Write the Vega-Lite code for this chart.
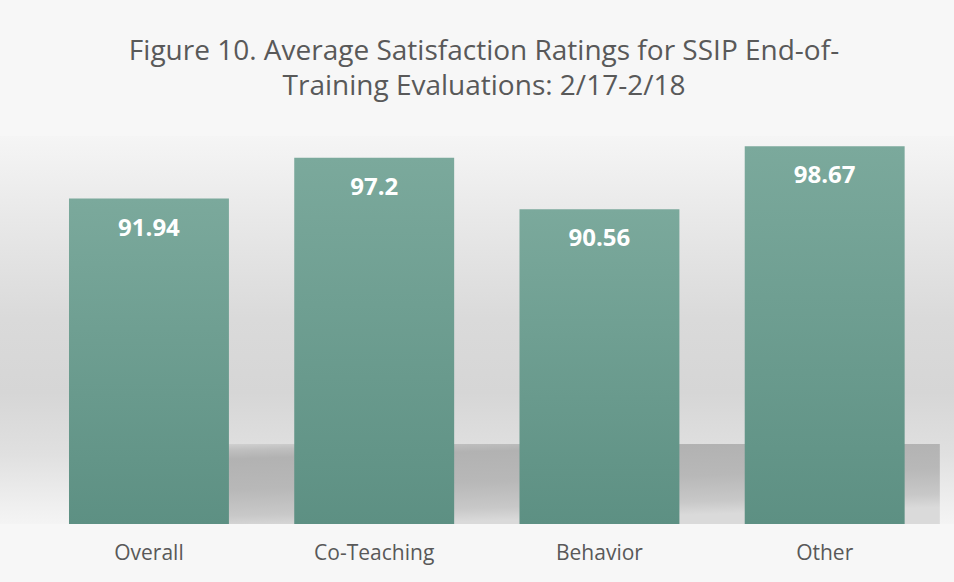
{
  "$schema": "https://vega.github.io/schema/vega-lite/v6.json",
  "autosize": "none",
  "width": 954,
  "height": 388,
  "padding": {"left": 0, "top": 136, "right": 0, "bottom": 58},
  "background": "#f7f7f7",
  "config": {"view": {"stroke": null}},
  "title": {
    "text": ["Figure 10. Average Satisfaction Ratings for SSIP End-of-", "Training Evaluations: 2/17-2/18"],
    "font": "Open Sans",
    "fontSize": 28,
    "fontWeight": "normal",
    "color": "#595959",
    "lineHeight": 35,
    "anchor": "middle",
    "dx": 7,
    "offset": 35
  },
  "layer": [
    {
      "data": {"values": [{"band": "background"}]},
      "mark": {"type": "rect",
        "color": {"gradient": "linear", "x1": 0, "y1": 0, "x2": 0, "y2": 1,
          "stops": [
            {"offset": 0, "color": "#f5f5f5"},
            {"offset": 0.22, "color": "#e8e8e8"},
            {"offset": 0.47, "color": "#dadada"},
            {"offset": 0.66, "color": "#d6d6d6"},
            {"offset": 0.82, "color": "#e0e0e0"},
            {"offset": 0.95, "color": "#efefef"},
            {"offset": 1, "color": "#f4f4f4"}
          ]}},
      "encoding": {
        "y": {"datum": 100, "type": "quantitative", "scale": {"domain": [50, 100], "zero": false, "nice": false}, "axis": null},
        "y2": {"datum": 50}
      }
    },
    {
      "data": {"values": [{"band": "shadow"}]},
      "mark": {"type": "rect",
        "color": {"gradient": "linear", "x1": 0, "y1": 0, "x2": 0.3, "y2": 1,
          "stops": [
            {"offset": 0, "color": "#d6d6d6"},
            {"offset": 0.1, "color": "#bfbfbf"},
            {"offset": 0.2, "color": "#b2b2b2"},
            {"offset": 0.55, "color": "#b8b8b8"},
            {"offset": 0.85, "color": "#c8c8c8"},
            {"offset": 1, "color": "#dadada"}
          ]}},
      "encoding": {
        "x": {"datum": "Overall", "type": "nominal"},
        "x2": {"datum": "Other", "bandPosition": 1.22},
        "y": {"datum": 60.3, "type": "quantitative"},
        "y2": {"datum": 50}
      }
    },
    {
      "data": {
        "values": [
          {"category": "Overall", "rating": 91.94},
          {"category": "Co-Teaching", "rating": 97.2},
          {"category": "Behavior", "rating": 90.56},
          {"category": "Other", "rating": 98.67}
        ]
      },
      "encoding": {
        "x": {
          "field": "category", "type": "nominal", "sort": null,
          "scale": {"domain": ["Overall", "Co-Teaching", "Behavior", "Other"], "paddingInner": 0.29, "paddingOuter": 0.2627, "align": 0.583},
          "axis": {"title": null, "domain": false, "ticks": false, "labelAngle": 0, "bandPosition": 0.5, "labelAlign": "center",
            "labelFont": "Open Sans", "labelFontSize": 21, "labelColor": "#595959", "labelPadding": 29}
        },
        "y": {"field": "rating", "type": "quantitative"}
      },
      "layer": [
        {
          "mark": {"type": "bar",
            "color": {"gradient": "linear", "x1": 0, "y1": 0, "x2": 0, "y2": 1,
              "stops": [{"offset": 0, "color": "#7ba99c"}, {"offset": 1, "color": "#5d9083"}]}},
          "encoding": {"y2": {"datum": 50}}
        },
        {
          "mark": {"type": "text", "color": "#ffffff", "font": "Open Sans", "fontWeight": "bold", "fontSize": 24, "baseline": "middle", "dy": 30},
          "encoding": {"text": {"field": "rating", "type": "nominal"}}
        }
      ]
    }
  ]
}
